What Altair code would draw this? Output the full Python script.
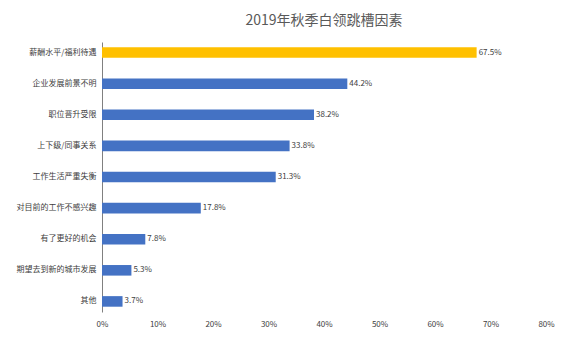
import altair as alt
import pandas as pd

categories = ["薪酬水平/福利待遇", "企业发展前景不明", "职位晋升受限", "上下级/同事关系",
              "工作生活严重失衡", "对目前的工作不感兴趣", "有了更好的机会", "期望去到新的城市发展", "其他"]
values = [67.5, 44.2, 38.2, 33.8, 31.3, 17.8, 7.8, 5.3, 3.7]
highlight = [True, False, False, False, False, False, False, False, False]

df = pd.DataFrame({"cat": categories, "val": values, "hl": highlight})
df["label"] = df["val"].map(lambda v: f"{v:.1f}%")

font = "Noto Sans CJK SC"

base = alt.Chart(df).encode(
    y=alt.Y("cat:N", sort=categories, title=None,
            scale=alt.Scale(paddingInner=0.66, paddingOuter=0.17),
            axis=alt.Axis(domainColor="#808080", ticks=False, labelFontSize=8,
                          labelColor="#404040", labelFont=font, labelPadding=6,
                          domainWidth=1)),
    x=alt.X("val:Q", title=None,
            scale=alt.Scale(domain=[0, 80], nice=False),
            axis=alt.Axis(values=[0, 10, 20, 30, 40, 50, 60, 70, 80],
                          labelExpr="datum.value + '%'", grid=False, domain=False,
                          ticks=False, labelFontSize=8, labelColor="#404040",
                          labelFont=font, labelPadding=8, labelFlush=False)),
)

bars = base.mark_bar().encode(
    color=alt.Color("hl:N", scale=alt.Scale(domain=[True, False], range=["#FFC000", "#4472C4"]),
                    legend=None)
)
text = base.mark_text(align="left", dx=2, fontSize=8, color="#404040", font=font).encode(
    text="label:N"
)

chart = (bars + text).properties(
    width=444, height=270,
    title=alt.TitleParams("2019年秋季白领跳槽因素", fontSize=14, font=font,
                          fontWeight="normal", color="#595959", anchor="middle", offset=14),
    padding={"left": 102, "top": 42, "right": 19, "bottom": 41},
    autosize=alt.AutoSizeParams(type="none"),
).configure_view(stroke=None)

chart.save("out.html", embed_options={"renderer": "svg", "actions": False})
